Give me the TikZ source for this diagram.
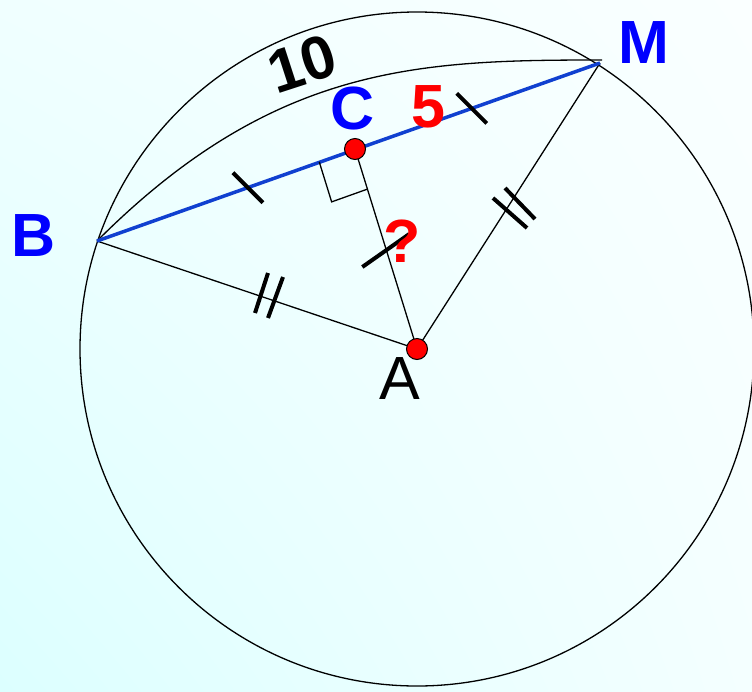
\documentclass[tikz,border=0pt]{standalone}
\usepackage{fontspec}
\setmainfont{Liberation Sans}
\usetikzlibrary{positioning,calc,shadings}
\definecolor{chordblue}{RGB}{16,64,208}
\definecolor{ptblue}{RGB}{0,0,255}
\definecolor{ptred}{RGB}{255,0,0}
\definecolor{bgll}{RGB}{220,255,255}
\definecolor{bgul}{RGB}{240,255,255}
\definecolor{bgur}{RGB}{250,255,255}
\definecolor{bglr}{RGB}{244,255,255}

\begin{document}
\begin{tikzpicture}[
  x=1pt, y=-1pt,
  thinline/.style={line width=1.3pt},
  tickmark/.style={line width=4pt},
  dot/.style={circle, draw, line width=1pt, fill=ptred, inner sep=0pt, minimum size=21pt},
  lbl/.style={font=\fontsize{61}{61}\selectfont\bfseries, inner sep=0pt}
]
  % background
  \shade[lower left=bgll, upper left=bgul, upper right=bgur, lower right=bglr]
    (0,691) rectangle (752,0);
  \useasboundingbox (0,0) rectangle (752,691);

  % points
  \coordinate (A) at (417,349);
  \coordinate (B) at (97,241);
  \coordinate (M) at (600,63);
  \coordinate (C) at (355,149);
  \coordinate (Mend) at (602,60);

  % circle and arc BM
  \draw[thinline] (A) circle[radius=337];
  \draw[thinline] (B) .. controls (274,64) and (420,60) .. (Mend);

  % radii and perpendicular
  \draw[thinline] (B) -- (A);
  \draw[thinline] (A) -- (M);
  \draw[thinline] (A) -- (C);
  \draw[chordblue, line width=3.5pt] (B) -- (M);

  % right angle at C
  \coordinate (r1) at ($(C)!38pt!(B)$);
  \coordinate (r3) at ($(C)!42pt!(A)$);
  \draw[thinline] (r1) -- ($(r1)+(r3)-(C)$) -- (r3);

  % equal marks
  \draw[tickmark] ($(B)!0.3!(M)+(-15,-15)$) -- ($(B)!0.3!(M)+(15,15)$);
  \draw[tickmark] ($(B)!0.745!(M)+(-15,-15)$) -- ($(B)!0.745!(M)+(15,15)$);
  \draw[tickmark] ($(C)!0.505!(A)+(-24,17)$) -- ($(C)!0.505!(A)+(23,-16)$);
  \draw[tickmark] (268,273) -- (255,313);
  \draw[tickmark] (283,277) -- (268,318);
  \draw[tickmark] (493,198) -- (527,228);
  \draw[tickmark] (505,188) -- (535,219);

  % points
  \node[dot] (dotC) at (C) {};
  \node[dot] (dotA) at (A) {};

  % labels
  \node[lbl, text=ptblue] (lB) at (34,236) {B};
  \node[lbl, text=ptblue] (lM) at (644,43) {M};
  \node[lbl, text=ptblue] (lC) at (353,108) {C};
  \node[lbl, text=ptred] (l5) at (428,107) {5};
  \node[lbl, text=ptred] (lq) at (402,241) {?};
  \node[lbl, font=\fontsize{61}{61}\selectfont] (lA) at (400,379) {A};
  \node[lbl, rotate=18] (l10) at (302,64) {10};
\end{tikzpicture}
\end{document}
